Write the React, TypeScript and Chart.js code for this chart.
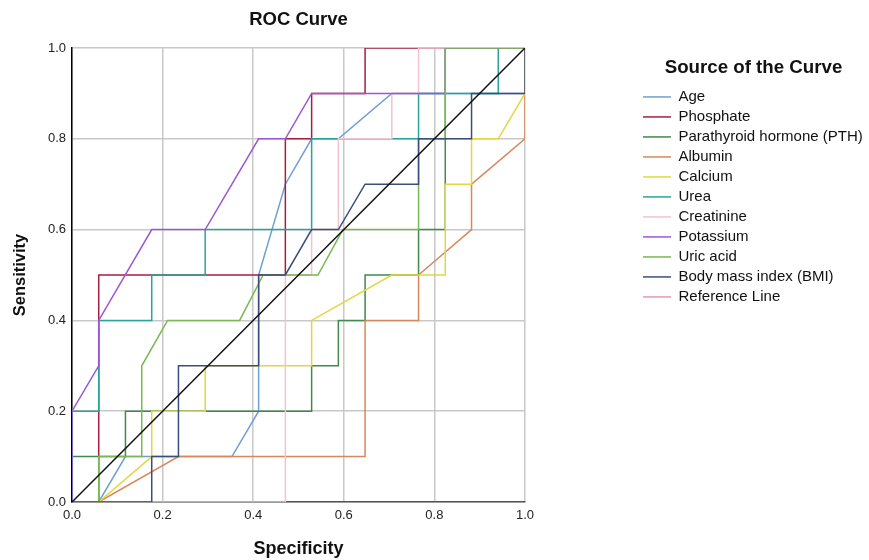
import React, { useEffect, useRef } from "react";
import { Chart, registerables } from "chart.js";

Chart.register(...registerables);

// ---------- data ----------
const chartTitle = "ROC Curve";
const xAxisTitle = "Specificity";
const yAxisTitle = "Sensitivity";
const legendTitle = "Source of the Curve";
const tickValues = [0, 0.2, 0.4, 0.6, 0.8, 1.0];

const seriesNames = [
  "Age",
  "Phosphate",
  "Parathyroid hormone (PTH)",
  "Albumin",
  "Calcium",
  "Urea",
  "Creatinine",
  "Potassium",
  "Uric acid",
  "Body mass index (BMI)",
  "Reference Line",
];

const ageX = [0, 0.059, 0.118, 0.353, 0.412, 0.412, 0.471, 0.529, 0.588, 0.706, 1, 1];
const ageY = [0, 0, 0.1, 0.1, 0.2, 0.5, 0.7, 0.8, 0.8, 0.9, 0.9, 1];

const phosphateX = [0, 0.059, 0.059, 0.471, 0.471, 0.529, 0.529, 0.647, 0.647, 1];
const phosphateY = [0, 0, 0.5, 0.5, 0.8, 0.8, 0.9, 0.9, 1, 1];

const pthX = [0, 0, 0.118, 0.118, 0.529, 0.529, 0.588, 0.588, 0.647, 0.647, 0.765, 0.765, 0.824, 0.824, 1];
const pthY = [0, 0.1, 0.1, 0.2, 0.2, 0.3, 0.3, 0.4, 0.4, 0.5, 0.5, 0.6, 0.6, 1, 1];

const albuminX = [0, 0.059, 0.235, 0.647, 0.647, 0.765, 0.765, 0.882, 0.882, 1, 1];
const albuminY = [0, 0, 0.1, 0.1, 0.4, 0.4, 0.5, 0.6, 0.7, 0.8, 1];

const calciumX = [0, 0.059, 0.176, 0.176, 0.294, 0.294, 0.529, 0.529, 0.706, 0.824, 0.824, 0.882, 0.882, 0.941, 1, 1];
const calciumY = [0, 0, 0.1, 0.2, 0.2, 0.3, 0.3, 0.4, 0.5, 0.5, 0.7, 0.7, 0.8, 0.8, 0.9, 1];

const ureaX = [0, 0, 0.059, 0.059, 0.176, 0.176, 0.294, 0.294, 0.529, 0.529, 0.765, 0.765, 0.941, 0.941, 1];
const ureaY = [0, 0.2, 0.2, 0.4, 0.4, 0.5, 0.5, 0.6, 0.6, 0.8, 0.8, 0.9, 0.9, 1, 1];

const creatinineX = [0, 0.471, 0.471, 0.529, 0.529, 0.588, 0.588, 0.706, 0.706, 0.765, 0.765, 1];
const creatinineY = [0, 0, 0.5, 0.5, 0.6, 0.6, 0.8, 0.8, 0.9, 0.9, 1, 1];

const potassiumX = [0, 0, 0.059, 0.059, 0.176, 0.294, 0.412, 0.471, 0.529, 0.824, 0.824, 1];
const potassiumY = [0, 0.2, 0.3, 0.4, 0.6, 0.6, 0.8, 0.8, 0.9, 0.9, 1, 1];

const uricAcidX = [0, 0.059, 0.059, 0.154, 0.154, 0.211, 0.37, 0.422, 0.543, 0.598, 0.765, 0.765, 0.824, 0.824, 1];
const uricAcidY = [0, 0, 0.1, 0.1, 0.3, 0.4, 0.4, 0.5, 0.5, 0.6, 0.6, 0.8, 0.8, 1, 1];

const bmiX = [0, 0.176, 0.176, 0.235, 0.235, 0.412, 0.412, 0.471, 0.529, 0.588, 0.647, 0.765, 0.765, 0.882, 0.882, 1, 1];
const bmiY = [0, 0, 0.1, 0.1, 0.3, 0.3, 0.5, 0.5, 0.6, 0.6, 0.7, 0.7, 0.8, 0.8, 0.9, 0.9, 1];

const referenceX = [0, 1];
const referenceY = [0, 1];

// ---------- styles ----------
const lineColors = [
  "#6f9fd2",
  "#a41f40",
  "#3f8a4c",
  "#d9875a",
  "#e2d83e",
  "#2aa39c",
  "#f2c4d2",
  "#9b57d3",
  "#7ab852",
  "#3b4d7a",
  "#111111",
];
const referenceLegendColor = "#ea96b2";
const FONT = "'Liberation Sans', Arial, Helvetica, sans-serif";

const seriesX = [ageX, phosphateX, pthX, albuminX, calciumX, ureaX, creatinineX, potassiumX, uricAcidX, bmiX, referenceX];
const seriesY = [ageY, phosphateY, pthY, albuminY, calciumY, ureaY, creatinineY, potassiumY, uricAcidY, bmiY, referenceY];

export default function App() {
  const canvasRef = useRef<HTMLCanvasElement | null>(null);

  useEffect(() => {
    const canvas = canvasRef.current;
    if (!canvas) return;

    const datasets = seriesNames.map((name, i) => ({
      label: name,
      data: seriesX[i].map((x, j) => ({ x, y: seriesY[i][j] })),
      borderColor: lineColors[i],
      backgroundColor: lineColors[i],
      borderWidth: 1.5,
      pointRadius: 0,
      pointHoverRadius: 0,
      tension: 0,
      fill: false,
      order: seriesNames.length - i,
    }));

    const chart = new Chart(canvas, {
      type: "line",
      data: { datasets },
      options: {
        animation: false,
        responsive: false,
        devicePixelRatio: 1,
        events: [],
        layout: { padding: 0 },
        plugins: {
          tooltip: { enabled: false },
          title: {
            display: true,
            text: chartTitle,
            fullSize: false,
            color: "#111",
            font: { family: FONT, size: 18.5, weight: "bold" },
            padding: { top: 9, bottom: 16.8 },
          },
          legend: {
            display: true,
            position: "right",
            align: "start",
            maxWidth: 231,
            title: {
              display: true,
              text: legendTitle,
              color: "#111",
              font: { family: FONT, size: 18.7, weight: "bold" },
              padding: { top: 58.6, bottom: 3.4 },
            },
            labels: {
              usePointStyle: true,
              pointStyle: "line",
              pointStyleWidth: 28,
              color: "#111",
              padding: 5,
              font: { family: FONT, size: 15 },
              sort: (a: any, b: any) => a.datasetIndex - b.datasetIndex,
              generateLabels: (c: any) => {
                const items = (Chart.defaults.plugins.legend.labels as any).generateLabels(c);
                items.forEach((it: any) => {
                  if (it.text === "Reference Line") it.strokeStyle = referenceLegendColor;
                  it.lineWidth = 1.5;
                });
                return items;
              },
            },
          },
        },
        scales: {
          x: {
            type: "linear",
            position: "bottom",
            min: 0,
            max: 1,
            afterBuildTicks: (s: any) => {
              s.ticks = tickValues.map((v) => ({ value: v }));
            },
            afterFit: (s: any) => {
              s.height = 58;
            },
            grid: { color: "#c8c8c8", lineWidth: 1.5, drawTicks: false },
            border: { color: "#555555", width: 1.5 },
            ticks: {
              padding: 6,
              color: "#222",
              font: { family: FONT, size: 13 },
              maxRotation: 0,
              callback: (v: any) => Number(v).toFixed(1),
            },
            title: {
              display: true,
              text: xAxisTitle,
              color: "#111",
              font: { family: FONT, size: 18, weight: "bold" },
              padding: { top: 0, bottom: 0 },
            },
          },
          y: {
            type: "linear",
            position: "left",
            min: 0,
            max: 1,
            afterBuildTicks: (s: any) => {
              s.ticks = tickValues.map((v) => ({ value: v }));
            },
            afterFit: (s: any) => {
              s.width = 72;
            },
            grid: { color: "#c8c8c8", lineWidth: 1.5, drawTicks: false },
            border: { color: "#000000", width: 1.5 },
            ticks: {
              padding: 6,
              color: "#222",
              font: { family: FONT, size: 13 },
              callback: (v: any) => Number(v).toFixed(1),
            },
            title: {
              display: true,
              text: yAxisTitle,
              color: "#111",
              font: { family: FONT, size: 16.5, weight: "bold" },
              padding: { top: 10.5, bottom: 0 },
            },
          },
          gap: {
            type: "linear",
            position: "right",
            display: true,
            grid: { display: false },
            border: { display: false },
            ticks: { display: false },
            afterFit: (s: any) => {
              s.width = 113;
            },
          },
        },
      },
    } as any);

    return () => {
      chart.destroy();
    };
  }, []);

  return (
    <div style={{ position: "fixed", left: 0, top: 0, width: 869, height: 560, background: "#ffffff" }}>
      <canvas ref={canvasRef} width={869} height={560} style={{ width: 869, height: 560, display: "block" }} />
    </div>
  );
}
